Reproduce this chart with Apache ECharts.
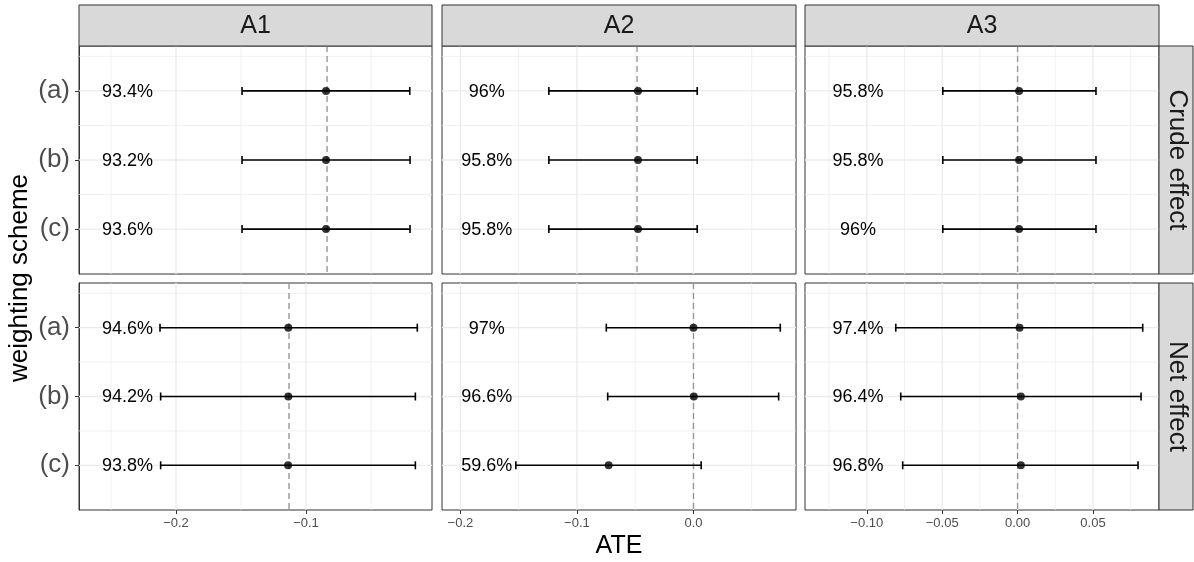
<!DOCTYPE html>
<html>
<head>
<meta charset="utf-8">
<script src="https://cdn.jsdelivr.net/npm/echarts@6/dist/echarts.min.js"></script>
<style>
html,body{margin:0;padding:0;background:#fff;}
#chart{width:1194px;height:562px;}
</style>
</head>
<body>
<div id="chart"></div>
<script>
// ---------- data ----------
const COLUMNS = ['A1', 'A2', 'A3'];
const FACETS = ['Crude effect', 'Net effect'];
const SCHEMES = ['(a)', '(b)', '(c)'];
const ROW_POS = [1, 2, 3];

// x ranges and tick labels per column
const X_MIN = [-0.2746, -0.2158, -0.141];
const X_MAX = [-0.0031, 0.088, 0.0938];
const X_BREAKS = [[-0.2, -0.1], [-0.2, -0.1, 0.0], [-0.10, -0.05, 0.00, 0.05]];
const X_MINOR = [[-0.25, -0.15, -0.05], [-0.15, -0.05, 0.05], [-0.125, -0.075, -0.025, 0.025, 0.075]];
const X_DIGITS = [1, 1, 2];
const Y_MINOR = [0.5, 1.5, 2.5];

// crude effect (row facet 1): per column, values for (a),(b),(c)
const crudeLower = [[-0.1492, -0.1492, -0.1492], [-0.1241, -0.1241, -0.1241], [-0.0496, -0.0496, -0.0496]];
const crudeEst   = [[-0.0846, -0.0846, -0.0846], [-0.0476, -0.0476, -0.0476], [0.0010, 0.0010, 0.0010]];
const crudeUpper = [[-0.0202, -0.0200, -0.0200], [0.0032, 0.0032, 0.0032], [0.0520, 0.0520, 0.0520]];
const crudeCover = [['93.4%', '93.2%', '93.6%'], ['96%', '95.8%', '95.8%'], ['95.8%', '95.8%', '96%']];
const crudeTrue  = [-0.0838, -0.0484, 0.0];

// net effect (row facet 2)
const netLower = [[-0.2123, -0.2118, -0.2118], [-0.0748, -0.0736, -0.1524], [-0.0808, -0.0775, -0.0762]];
const netEst   = [[-0.1136, -0.1136, -0.1138], [0.0000, 0.0003, -0.0728], [0.0013, 0.0022, 0.0022]];
const netUpper = [[-0.0144, -0.0159, -0.0159], [0.0745, 0.0731, 0.0066], [0.0830, 0.0819, 0.0799]];
const netCover = [['94.6%', '94.2%', '93.8%'], ['97%', '96.6%', '59.6%'], ['97.4%', '96.4%', '96.8%']];
const netTrue  = [-0.1131, 0.0, 0.0];

// coverage label x position per column
const LABEL_X = [-0.2373, -0.1774, -0.1058];

// ---------- layout ----------
const PANEL_LEFT = [79, 442, 805];
const PANEL_W = [353, 354, 354];
const PANEL_TOP = [46, 283];
const PANEL_H = [228, 227];
const STRIP_TOP = 5;
const STRIP_RIGHT_X = 1159;
const STRIP_RIGHT_W = 34;
const FONT = '"Liberation Sans", Arial, Helvetica, sans-serif';

const lowerAll = [crudeLower, netLower];
const estAll = [crudeEst, netEst];
const upperAll = [crudeUpper, netUpper];
const coverAll = [crudeCover, netCover];
const trueAll = [crudeTrue, netTrue];

const grids = [], xAxes = [], yAxes = [], series = [];

for (let r = 0; r < 2; r++) {
  for (let c = 0; c < 3; c++) {
    const gi = r * 3 + c;
    grids.push({
      left: PANEL_LEFT[c], top: PANEL_TOP[r], width: PANEL_W[c], height: PANEL_H[r],
      show: true, borderColor: '#333333', borderWidth: 1, backgroundColor: '#ffffff', containLabel: false
    });
    const bottom = r === 1;
    const digits = X_DIGITS[c];
    xAxes.push({
      type: 'value', gridIndex: gi, min: X_MIN[c], max: X_MAX[c], position: 'bottom',
      axisLine: { show: false },
      splitLine: { show: false },
      axisTick: bottom ? { show: true, customValues: X_BREAKS[c], length: 4, lineStyle: { color: '#333333', width: 1 } } : { show: false },
      axisLabel: bottom ? {
        show: true, customValues: X_BREAKS[c], margin: 7,
        fontSize: 13, color: '#4D4D4D', fontFamily: FONT,
        formatter: v => { const s = Number(v).toFixed(digits); return s.replace('-', '\u2212'); }
      } : { show: false }
    });
    const left = c === 0;
    yAxes.push({
      type: 'value', gridIndex: gi, min: 0.35, max: 3.65, inverse: true,
      axisLine: { show: left, lineStyle: { color: '#333333', width: 1 } },
      splitLine: { show: false },
      axisTick: left ? { show: true, customValues: ROW_POS, length: 4, lineStyle: { color: '#333333', width: 1 } } : { show: false },
      axisLabel: left ? {
        show: true, customValues: ROW_POS, margin: 9,
        fontSize: 26, color: '#4D4D4D', fontFamily: FONT,
        formatter: v => SCHEMES[Math.round(v) - 1]
      } : { show: false }
    });

    // gridlines
    const gridData = [];
    X_MINOR[c].forEach(v => gridData.push([0, v, 0]));
    X_BREAKS[c].forEach(v => gridData.push([0, v, 1]));
    Y_MINOR.forEach(v => gridData.push([1, v, 0]));
    ROW_POS.forEach(v => gridData.push([1, v, 1]));
    const xmin = X_MIN[c];
    series.push({
      type: 'custom', xAxisIndex: gi, yAxisIndex: gi, silent: true, z: 1,
      data: gridData,
      encode: { x: 1, y: 1 },
      renderItem: (params, api) => {
        const cs = params.coordSys;
        const orient = api.value(0), val = api.value(1), major = api.value(2);
        const style = { stroke: '#EBEBEB', lineWidth: major ? 1.3 : 0.7 };
        if (orient === 0) {
          const x = api.coord([val, 1])[0];
          return { type: 'line', shape: { x1: x, y1: cs.y, x2: x, y2: cs.y + cs.height }, style };
        } else {
          const y = api.coord([xmin, val])[1];
          return { type: 'line', shape: { x1: cs.x, y1: y, x2: cs.x + cs.width, y2: y }, style };
        }
      }
    });

    // dashed reference line
    series.push({
      type: 'custom', xAxisIndex: gi, yAxisIndex: gi, silent: true, z: 2,
      data: [[trueAll[r][c], 2]],
      renderItem: (params, api) => {
        const cs = params.coordSys;
        const x = api.coord([api.value(0), 2])[0];
        return { type: 'line', shape: { x1: x, y1: cs.y, x2: x, y2: cs.y + cs.height },
          style: { stroke: '#999999', lineWidth: 1.4, lineDash: [6, 4] } };
      }
    });

    // error bars
    const ebData = ROW_POS.map((p, i) => [lowerAll[r][c][i], upperAll[r][c][i], estAll[r][c][i], p]);
    series.push({
      type: 'custom', xAxisIndex: gi, yAxisIndex: gi, silent: true, z: 3,
      data: ebData,
      encode: { x: [0, 1], y: 3 },
      renderItem: (params, api) => {
        const lo = api.coord([api.value(0), api.value(3)]);
        const hi = api.coord([api.value(1), api.value(3)]);
        const st = { stroke: '#000000', lineWidth: 1.6 };
        const h = 4;
        return { type: 'group', children: [
          { type: 'line', shape: { x1: lo[0], y1: lo[1], x2: hi[0], y2: hi[1] }, style: st },
          { type: 'line', shape: { x1: lo[0], y1: lo[1] - h, x2: lo[0], y2: lo[1] + h }, style: st },
          { type: 'line', shape: { x1: hi[0], y1: hi[1] - h, x2: hi[0], y2: hi[1] + h }, style: st }
        ] };
      }
    });

    // point estimates
    series.push({
      type: 'scatter', xAxisIndex: gi, yAxisIndex: gi, silent: true, z: 4,
      symbol: 'circle', symbolSize: 8, itemStyle: { color: '#000000' },
      data: ROW_POS.map((p, i) => [estAll[r][c][i], p])
    });

    // coverage labels
    const texts = coverAll[r][c];
    series.push({
      type: 'custom', xAxisIndex: gi, yAxisIndex: gi, silent: true, z: 5,
      data: ROW_POS.map(p => [LABEL_X[c], p]),
      renderItem: (params, api) => {
        const pt = api.coord([api.value(0), api.value(1)]);
        return { type: 'text', style: { text: texts[params.dataIndex], x: pt[0], y: pt[1] + 1,
          align: 'center', verticalAlign: 'middle', font: '18px ' + FONT, fill: '#000000' } };
      }
    });
  }
}

// strips and titles
const graphics = [];
for (let c = 0; c < 3; c++) {
  graphics.push({ type: 'rect', shape: { x: PANEL_LEFT[c], y: STRIP_TOP, width: PANEL_W[c], height: PANEL_TOP[0] - STRIP_TOP },
    style: { fill: '#D9D9D9', stroke: '#333333', lineWidth: 1 }, z: 10 });
  graphics.push({ type: 'text', x: PANEL_LEFT[c] + PANEL_W[c] / 2, y: (STRIP_TOP + PANEL_TOP[0]) / 2 + 1,
    style: { text: COLUMNS[c], align: 'center', verticalAlign: 'middle', font: '25px ' + FONT, fill: '#1A1A1A' }, z: 11 });
}
for (let r = 0; r < 2; r++) {
  graphics.push({ type: 'rect', shape: { x: STRIP_RIGHT_X, y: PANEL_TOP[r], width: STRIP_RIGHT_W, height: PANEL_H[r] },
    style: { fill: '#D9D9D9', stroke: '#333333', lineWidth: 1 }, z: 10 });
  graphics.push({ type: 'text', x: STRIP_RIGHT_X + STRIP_RIGHT_W / 2 + 1, y: PANEL_TOP[r] + PANEL_H[r] / 2,
    rotation: -Math.PI / 2,
    style: { text: FACETS[r], align: 'center', verticalAlign: 'middle', font: '26px ' + FONT, fill: '#1A1A1A' }, z: 11 });
}
graphics.push({ type: 'text', x: 619, y: 546,
  style: { text: 'ATE', align: 'center', verticalAlign: 'middle', font: '25px ' + FONT, fill: '#000000' } });
graphics.push({ type: 'text', x: 20, y: 278, rotation: Math.PI / 2,
  style: { text: 'weighting scheme', align: 'center', verticalAlign: 'middle', font: '26px ' + FONT, fill: '#000000' } });

const chart = echarts.init(document.getElementById('chart'), null, { renderer: 'canvas' });
chart.setOption({
  animation: false,
  backgroundColor: '#ffffff',
  grid: grids,
  xAxis: xAxes,
  yAxis: yAxes,
  series: series,
  graphic: graphics
});
</script>
</body>
</html>
